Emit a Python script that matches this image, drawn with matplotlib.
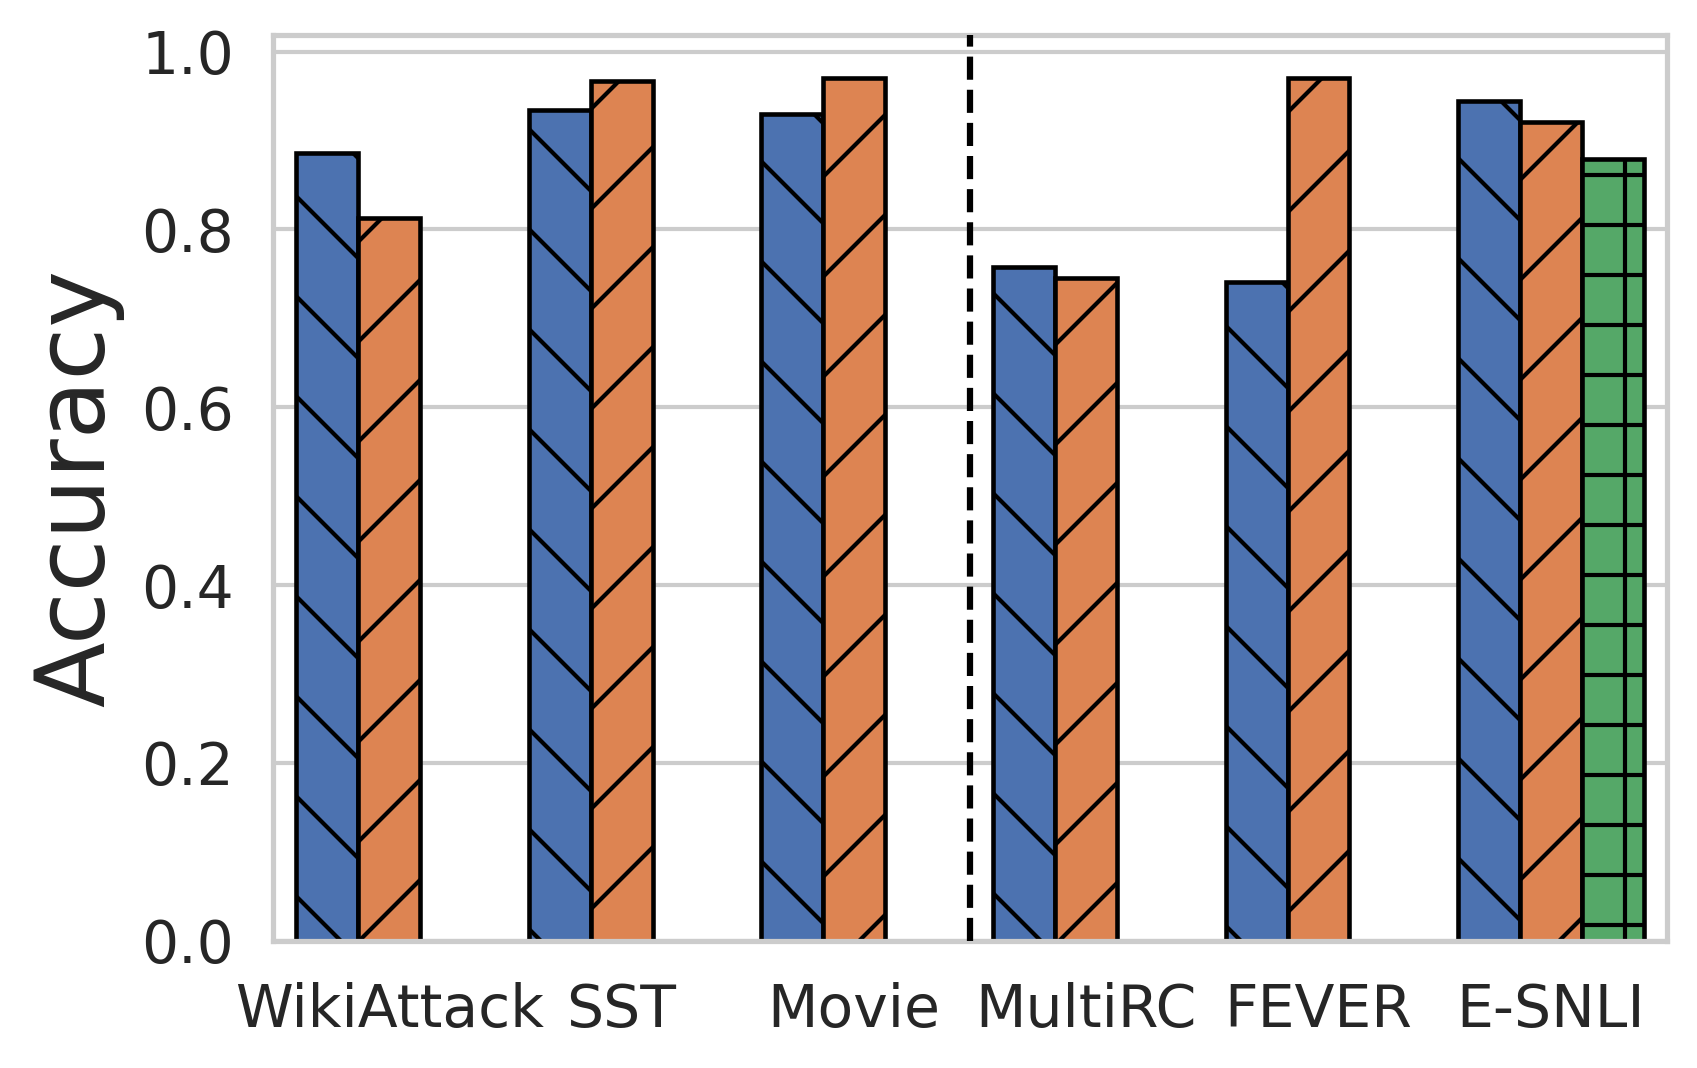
"""Grouped accuracy bars per dataset, hatched by series."""

import matplotlib
matplotlib.use("Agg")
import matplotlib.pyplot as plt
import numpy as np
import seaborn as sns

datasets = ["WikiAttack", "SST", "Movie", "MultiRC", "FEVER", "E-SNLI"]
series_a = [0.886, 0.934, 0.930, 0.758, 0.741, 0.944]
series_b = [0.813, 0.967, 0.970, 0.745, 0.970, 0.921]
series_c = [np.nan, np.nan, np.nan, np.nan, np.nan, 0.879]

colors = ["#4C72B0", "#DD8452", "#55A868"]
hatches = ["\\", "/", "+"]

sns.set_theme(style="whitegrid")
plt.rcParams["font.family"] = ["DejaVu Sans"]
plt.rcParams["hatch.linewidth"] = 1.0

fig, ax = plt.subplots(figsize=(1697 / 300, 1068 / 300), dpi=300)
fig.subplots_adjust(left=0.1609, right=0.9823, top=0.9672, bottom=0.1192)

x = np.arange(len(datasets))
width = 0.8 / 3
for i, vals in enumerate([series_a, series_b, series_c]):
    ax.bar(x + (i - 1) * width, vals, width=width, color=colors[i],
           hatch=hatches[i], edgecolor="black", linewidth=1.1, zorder=2)

ax.axvline(2.5, color="black", linestyle="--", linewidth=1.5, zorder=3)

ax.set_xlim(-0.5, len(datasets) - 0.5)
ax.set_ylim(0, 1.0186)
ax.set_xticks(x)
ax.set_xticklabels(datasets)
ax.xaxis.grid(False)
ax.tick_params(axis="both", length=0, labelsize=14)
ax.tick_params(axis="y", pad=9.4)
ax.tick_params(axis="x", pad=10)
ax.set_ylabel("Accuracy", fontsize=23)

fig.savefig("out.png", dpi=300)
plt.close(fig)
